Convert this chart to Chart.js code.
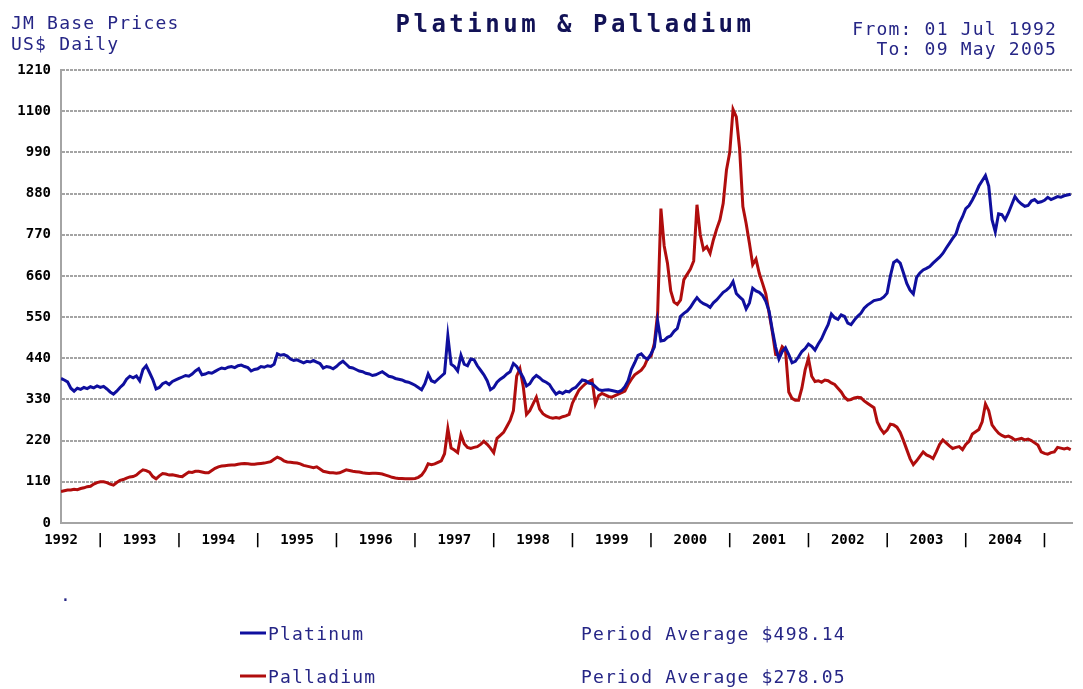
<!DOCTYPE html>
<html>
<head>
<meta charset="utf-8">
<title>Platinum &amp; Palladium</title>
<script src="https://cdn.jsdelivr.net/npm/chart.js@4/dist/chart.umd.min.js"></script>
<style>
  html, body { margin: 0; padding: 0; background: #fff; }
  canvas { display: block; }
</style>
</head>
<body>
<canvas id="priceChart" width="1083" height="689"></canvas>
<script>
"use strict";

// sampling: 1st and 16th of every month, starting 01 Jul 1992
const firstSample = 1992.5;
const samplesPerYear = 24;
const lastDay = 2005.35; // 09 May 2005

const yearLabels = ['1992', '1993', '1994', '1995', '1996', '1997', '1998',
  '1999', '2000', '2001', '2002', '2003', '2004'];
const yTicks = [0, 110, 220, 330, 440, 550, 660, 770, 880, 990, 1100, 1210];

const seriesNames = ['Platinum', 'Palladium'];
const periodAverages = ['498.14', '278.05'];
const headerLeft = ['JM Base Prices', 'US$ Daily'];
const headerRight = ['From: 01 Jul 1992', 'To: 09 May 2005'];
const chartTitle = 'Platinum & Palladium';

// US$ per troy ounce
const platinum = [
  386, 382, 377, 360, 352, 360, 357, 362, 359, 364, 361, 366,                                   // 1992 H2
  362, 365, 358, 350, 344, 352, 362, 370, 384, 392, 388, 393, 380, 410, 420, 402, 383, 358, 362, 372, 376, 370, 378, 382, // 1993
  386, 390, 394, 392, 398, 406, 412, 396, 398, 402, 400, 405, 410, 414, 412, 416, 418, 415, 420, 422, 418, 415, 406, 410, // 1994
  412, 418, 416, 420, 418, 424, 452, 448, 450, 446, 438, 434, 436, 432, 428, 432, 430, 434, 430, 426, 414, 418, 416, 412, // 1995
  418, 426, 432, 424, 416, 414, 410, 406, 404, 400, 398, 394, 396, 400, 404, 398, 392, 390, 386, 384, 382, 378, 376, 372, // 1996
  368, 362, 356, 372, 398, 380, 376, 384, 392, 400, 500, 424, 418, 406, 448, 424, 420, 438, 436, 420, 408, 396, 380, 356, // 1997
  362, 376, 384, 390, 398, 404, 426, 418, 404, 388, 366, 372, 386, 394, 388, 380, 376, 370, 356, 344, 350, 346, 352, 350, // 1998
  358, 362, 372, 382, 380, 374, 372, 364, 356, 354, 355, 356, 354, 352, 350, 354, 364, 380, 410, 428, 448, 452, 442, 438, // 1999
  452, 470, 540, 486, 488, 496, 500, 512, 520, 552, 560, 566, 576, 590, 602, 592, 586, 582, 576, 588, 596, 606, 616, 622, // 2000
  630, 645, 613, 604, 596, 572, 588, 627, 620, 616, 608, 592, 566, 515, 470, 438, 458, 468, 450, 428, 432, 444, 458, 466, // 2001
  478, 472, 462, 478, 492, 512, 530, 558, 548, 544, 556, 552, 534, 530, 542, 552, 560, 574, 582, 588, 594, 596, 598, 604, // 2002
  614, 660, 696, 702, 694, 668, 640, 622, 612, 656, 668, 676, 680, 685, 694, 702, 710, 720, 734, 747, 760, 772, 800, 818, // 2003
  840, 848, 863, 880, 900, 914, 928, 900, 810, 778, 826, 824, 810, 828, 850, 872, 860, 852, 846, 848, 860, 864, 856, 858, // 2004
  862, 870, 864, 868, 872, 870, 874, 876, 878                                                   // 2005 to May
];

const palladium = [
  84, 86, 88, 88, 90, 89, 92, 94, 97, 98, 104, 108,                                             // 1992 H2
  110, 110, 108, 104, 101, 108, 114, 116, 120, 123, 124, 128, 136, 142, 140, 136, 124, 118, 126, 132, 131, 128, 129, 127, // 1993
  125, 124, 130, 136, 135, 138, 138, 136, 134, 134, 140, 146, 150, 152, 153, 154, 155, 155, 157, 158, 159, 158, 157, 157, // 1994
  158, 159, 160, 162, 164, 170, 176, 172, 166, 163, 162, 161, 160, 158, 154, 152, 150, 148, 150, 144, 138, 136, 134, 134, // 1995
  133, 134, 138, 142, 140, 138, 137, 136, 134, 133, 132, 133, 133, 132, 131, 128, 125, 122, 120, 119, 119, 118, 118, 118, // 1996
  119, 122, 128, 140, 158, 156, 158, 162, 166, 185, 252, 200, 195, 188, 236, 212, 202, 199, 202, 204, 210, 218, 210, 200, // 1997
  188, 226, 234, 242, 258, 274, 300, 392, 412, 365, 290, 300, 318, 336, 304, 292, 286, 282, 280, 282, 280, 284, 286, 290, // 1998
  320, 338, 355, 364, 372, 378, 382, 318, 340, 346, 342, 338, 336, 340, 344, 348, 352, 370, 384, 396, 402, 408, 420, 440, // 1999
  446, 480, 560, 840, 740, 694, 620, 590, 584, 596, 650, 664, 678, 700, 850, 770, 730, 738, 720, 756, 785, 810, 854, 943, // 2000
  990, 1105, 1085, 1000, 845, 800, 747, 690, 705, 667, 640, 612, 560, 510, 450, 448, 471, 462, 350, 333, 328, 328, 360, 409, // 2001
  440, 392, 378, 380, 376, 382, 380, 374, 370, 360, 350, 336, 328, 330, 334, 336, 335, 326, 320, 314, 308, 270, 252, 240, // 2002
  248, 264, 262, 256, 242, 220, 196, 172, 156, 166, 178, 190, 182, 178, 172, 190, 210, 222, 214, 206, 199, 202, 204, 196, // 2003
  210, 218, 238, 244, 250, 270, 318, 300, 262, 250, 240, 234, 230, 232, 228, 222, 224, 226, 222, 224, 220, 214, 208, 190, // 2004
  186, 184, 188, 190, 202, 200, 198, 200, 196                                                   // 2005 to May
];

const navy = '#262686';
const gridGrey = '#a4a4a4';
const lineColors = ['#0f0f9e', '#b00d0d'];

// x ticks: year names mid-year, a bar at each 1 January
const xTicks = [];
yearLabels.forEach(y => {
  xTicks.push({ value: Number(y) + 0.5, label: y });
  xTicks.push({ value: Number(y) + 1, label: '|' });
});

function toPoints(values) {
  return values.map((v, i) => ({ x: firstSample + i / samplesPerYear, y: v }));
}

const textPlugin = {
  id: 'jmText',
  afterDraw(chart) {
    const ctx = chart.ctx;
    ctx.save();
    ctx.textBaseline = 'alphabetic';

    // header, left and right
    ctx.fillStyle = navy;
    ctx.font = '18px "DejaVu Sans Mono"';
    ctx.letterSpacing = '1.2px';
    ctx.textAlign = 'left';
    ctx.fillText(headerLeft[0], 11, 29);
    ctx.fillText(headerLeft[1], 11, 50);
    ctx.textAlign = 'right';
    ctx.fillText(headerRight[0], 1057, 35);
    ctx.fillText(headerRight[1], 1057, 55);

    // title
    ctx.fillStyle = '#121256';
    ctx.font = 'bold 24px "DejaVu Sans Mono"';
    ctx.letterSpacing = '3.5px';
    ctx.textAlign = 'center';
    ctx.fillText(chartTitle, 575, 32);

    // legend with period averages
    ctx.font = '18px "DejaVu Sans Mono"';
    ctx.letterSpacing = '1.2px';
    ctx.textAlign = 'left';
    const rows = [633, 676];
    seriesNames.forEach((name, i) => {
      const y = rows[i];
      ctx.strokeStyle = lineColors[i];
      ctx.lineWidth = 3;
      ctx.beginPath();
      ctx.moveTo(240, y);
      ctx.lineTo(266, y);
      ctx.stroke();
      ctx.fillStyle = navy;
      ctx.fillText(name, 268, y + 7);
      ctx.fillText('Period Average $' + periodAverages[i], 581, y + 7);
    });
    ctx.fillText('.', 60, 601);
    ctx.restore();
  }
};

new Chart(document.getElementById('priceChart'), {
  type: 'line',
  data: {
    datasets: seriesNames.map((name, i) => ({
      label: name,
      data: toPoints(i === 0 ? platinum : palladium),
      borderColor: lineColors[i],
      backgroundColor: lineColors[i],
      borderWidth: 3,
      pointRadius: 0,
      tension: 0,
      fill: false
    }))
  },
  options: {
    responsive: false,
    animation: false,
    devicePixelRatio: 1,
    layout: { padding: { top: 70, left: 0, right: 11, bottom: 136 } },
    plugins: {
      legend: { display: false },
      tooltip: { enabled: false },
      title: { display: false }
    },
    scales: {
      x: {
        type: 'linear',
        min: firstSample,
        max: lastDay,
        afterBuildTicks: scale => { scale.ticks = xTicks.map(t => ({ value: t.value })); },
        afterFit: scale => { scale.height = 30; },
        ticks: {
          autoSkip: false,
          maxRotation: 0,
          padding: 9,
          color: '#000',
          font: { family: '"DejaVu Sans Mono"', weight: 'bold', size: 14 },
          callback: (value, index) => xTicks[index].label
        },
        grid: { display: false, drawTicks: false },
        border: { display: true, color: gridGrey, width: 2 }
      },
      y: {
        min: 0,
        max: 1210,
        afterBuildTicks: scale => { scale.ticks = yTicks.map(v => ({ value: v })); },
        afterFit: scale => { scale.width = 61; },
        ticks: {
          padding: 10,
          color: '#000',
          font: { family: '"DejaVu Sans Mono"', weight: 'bold', size: 14 },
          callback: value => String(value)
        },
        grid: { color: gridGrey, lineWidth: 2, drawTicks: false },
        border: { display: true, color: gridGrey, width: 2, dash: [3, 1] }
      }
    }
  },
  plugins: [textPlugin]
});
</script>
</body>
</html>
